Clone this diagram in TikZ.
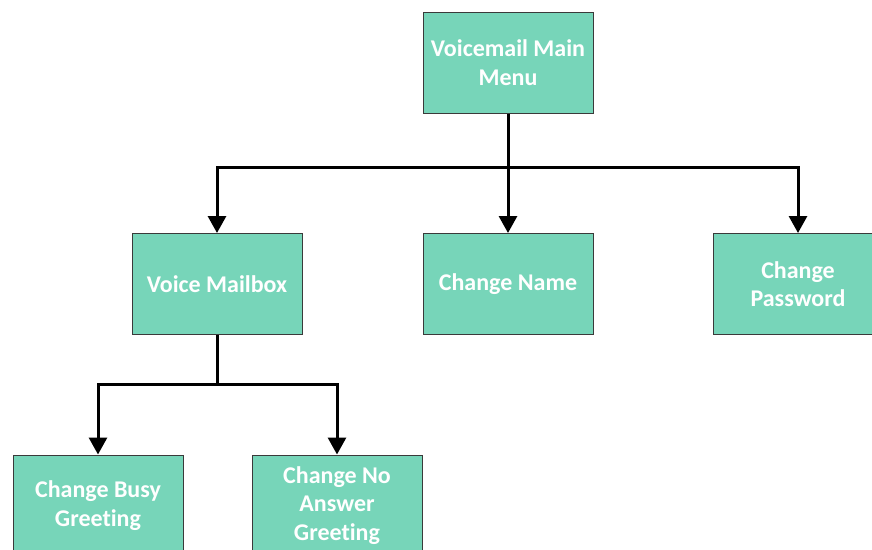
\documentclass[tikz,border=0pt]{standalone}
\usepackage{fontspec}
\setmainfont[Ligatures=NoCommon]{Carlito}
\usetikzlibrary{arrows.meta}
\definecolor{boxfill}{HTML}{77D5B9}
\definecolor{boxedge}{HTML}{3A3A3A}
\tikzset{
  box/.style={draw=boxedge, line width=1pt, fill=boxfill, minimum width=170pt, minimum height=101pt,
    inner sep=0pt, align=center, text=white, font=\fontsize{24}{28.5}\selectfont\bfseries},
  conn/.style={line width=3pt, line join=miter, black},
  arr/.style={conn, -{Triangle[width=18pt,length=17pt]}}
}
\begin{document}
\begin{tikzpicture}[x=1pt,y=-1pt]
\useasboundingbox (0,0) rectangle (872,549);
\clip (0,0) rectangle (872,549);
\node[box] (main) at (508,62.5) {Voicemail Main\\Menu};
\node[box] (vm) at (217,284) {Voice Mailbox};
\node[box] (cn) at (508,284) {Change Name};
\node[box] (pw) at (798,284) {Change\\Password};
\node[box] (busy) at (98,505.5) {Change Busy\\Greeting};
\node[box] (noans) at (337,505.5) {Change No\\Answer\\Greeting};
\coordinate (j1) at (508,167);
\coordinate (j2) at (217,384);
\draw[conn] (main.south) -- (j1);
\draw[arr] (j1) -| (vm.north);
\draw[arr] (j1) -| (pw.north);
\draw[arr] (j1) -- (cn.north);
\draw[conn] (vm.south) -- (j2);
\draw[arr] (j2) -| (busy.north);
\draw[arr] (j2) -| (noans.north);
\end{tikzpicture}
\end{document}
